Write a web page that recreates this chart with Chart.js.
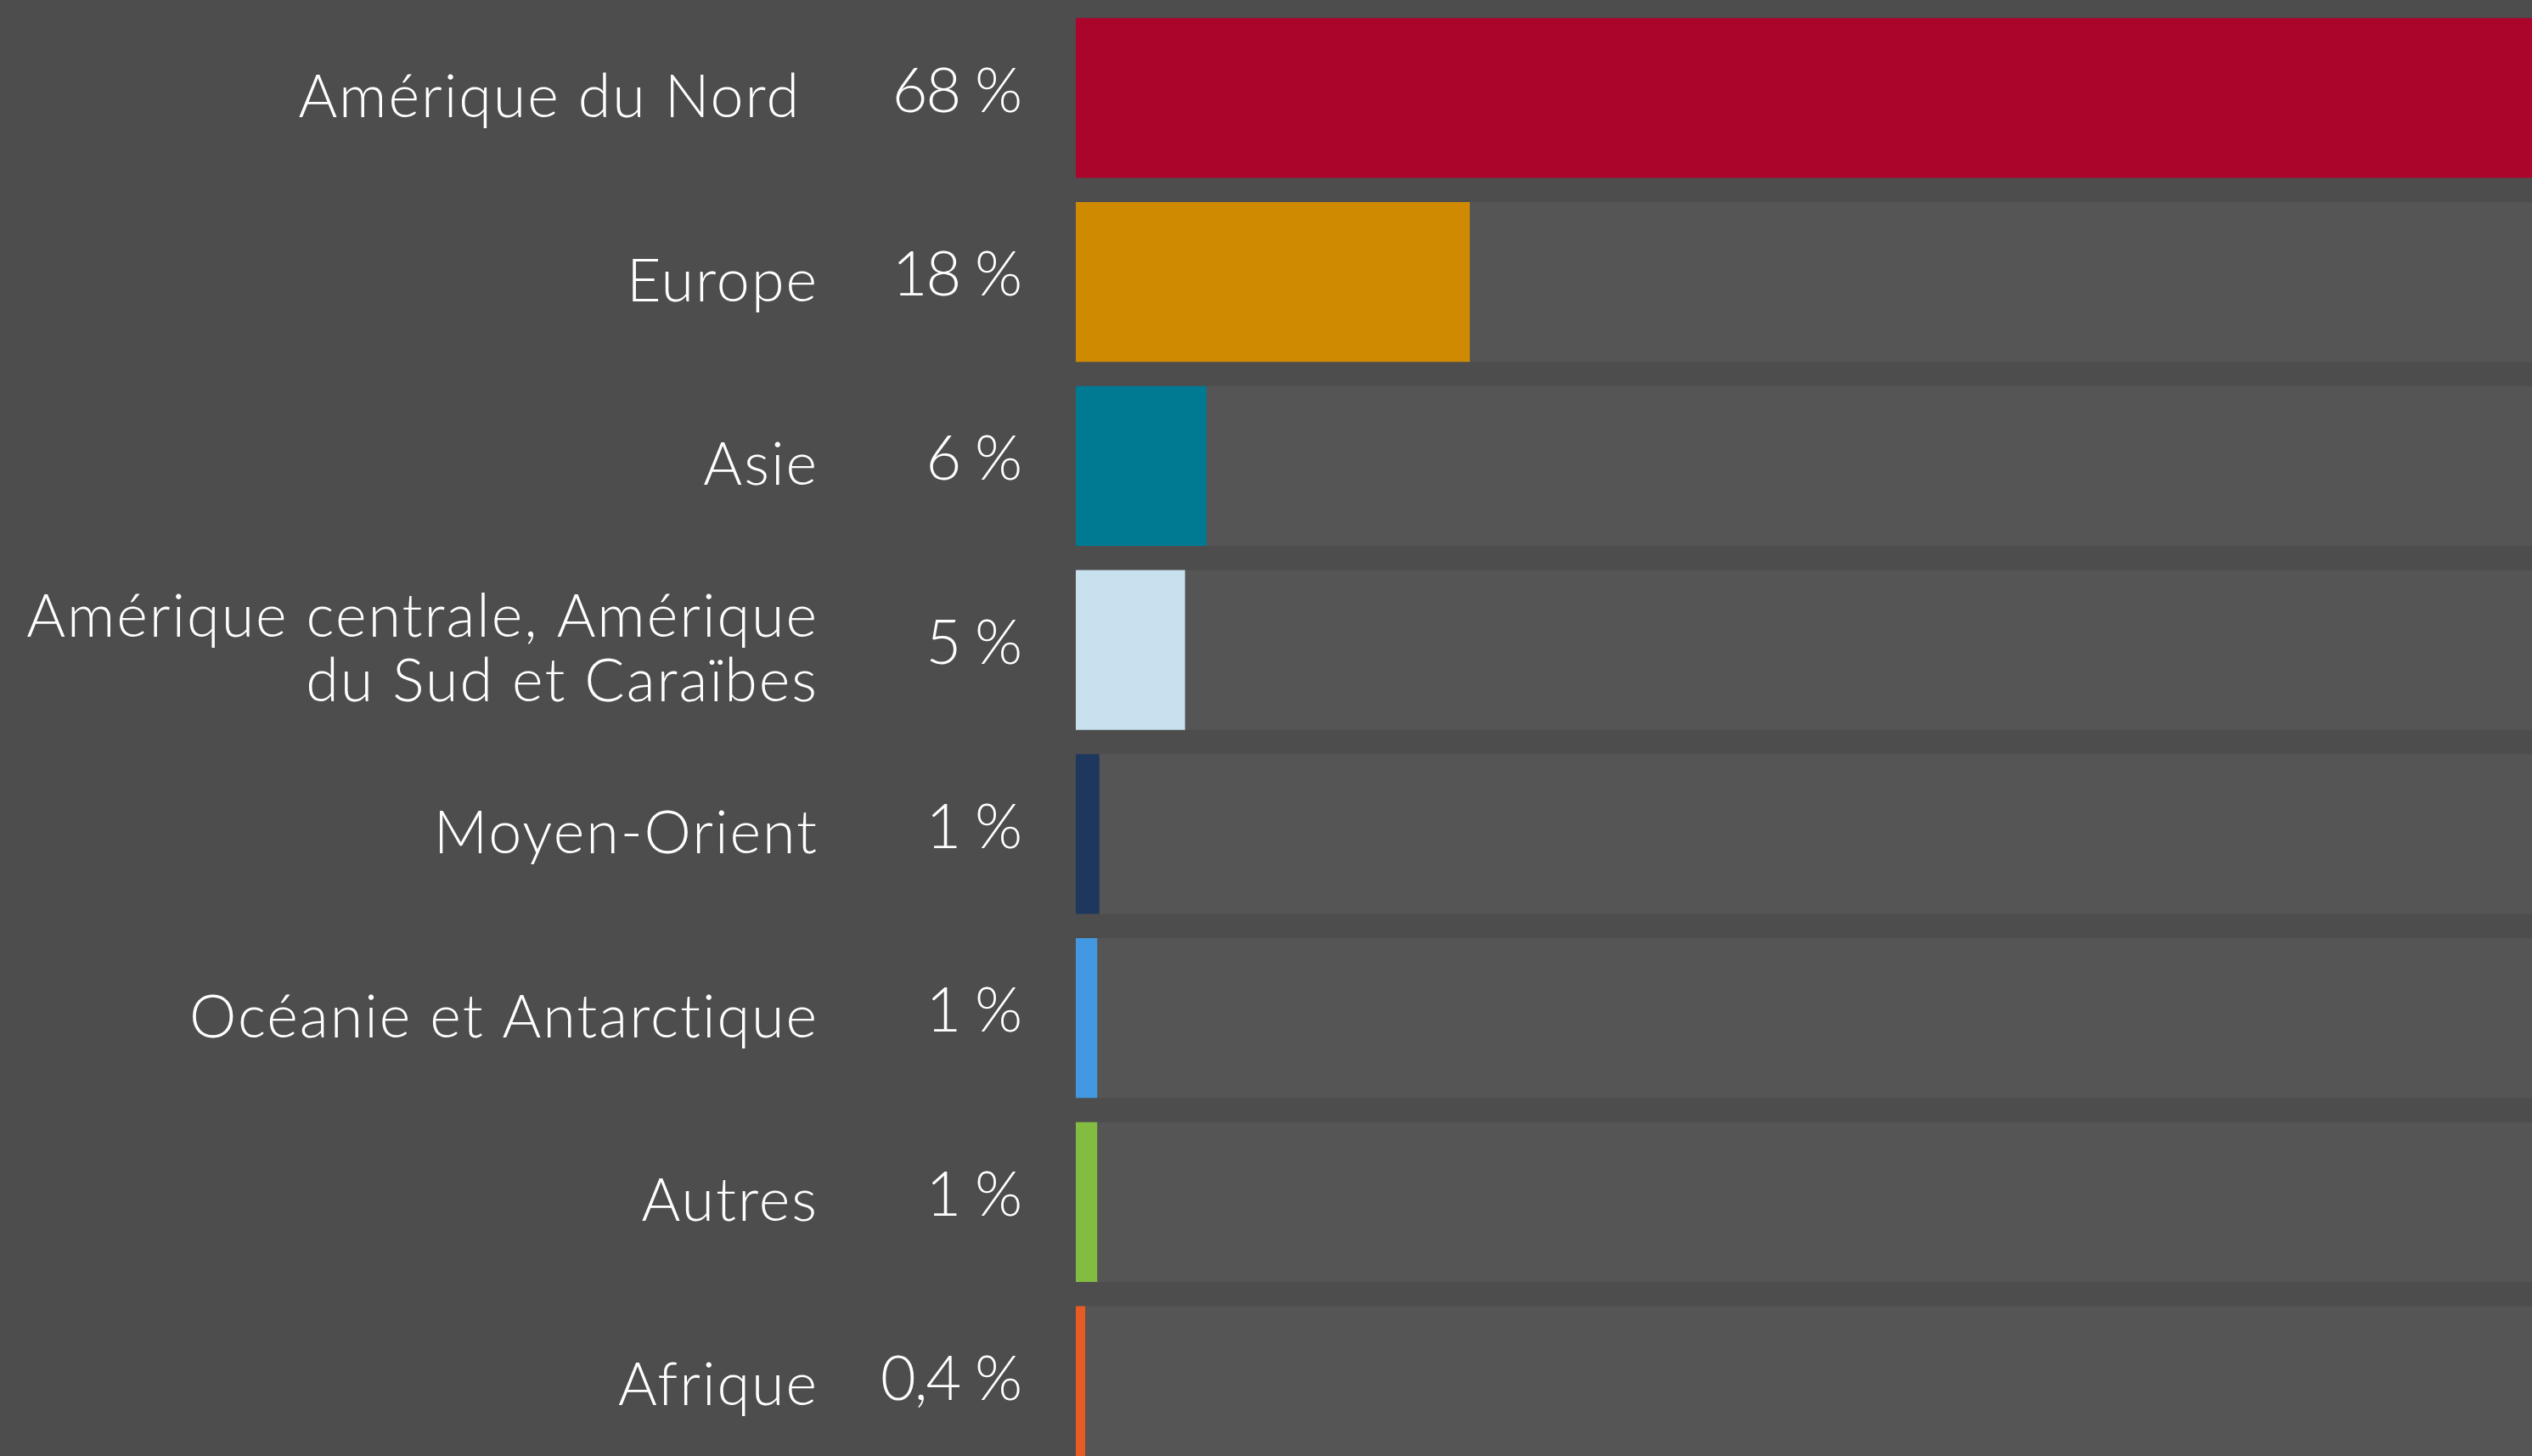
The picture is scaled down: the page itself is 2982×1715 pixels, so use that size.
<!DOCTYPE html>
<html lang="fr">
<head>
<meta charset="utf-8">
<title>Répartition par région</title>
<script src="https://cdn.jsdelivr.net/npm/chart.js@4"></script>
<style>
  html, body { margin: 0; padding: 0; background: #4d4d4d; overflow: hidden; }
  #wrap { position: relative; width: 2982px; height: 1741px; }
</style>
</head>
<body>
<div id="wrap"><canvas id="regionChart"></canvas></div>
<script>
// data
const regions = [
  'Amérique du Nord\u00a0',
  'Europe',
  'Asie',
  ['Amérique centrale, Amérique', 'du Sud et Caraïbes'],
  'Moyen-Orient',
  'Océanie et Antarctique',
  'Autres',
  'Afrique'
];
const shares = [68, 18.4, 6.1, 5.1, 1.1, 1.0, 1.0, 0.44];
const shareLabels = ['68 %', '18 %', '6 %', '5 %', '1 %', '1 %', '1 %', '0,4 %'];
const barColors = ['#ab052c', '#d08a02', '#007a92', '#c9e1ef', '#1e375c', '#4299e1', '#82bd41', '#e65c24'];
const scaleMax = 68;
const track = regions.map(() => scaleMax);

const fontFamily = 'Lato, "Open Sans", sans-serif';

// slightly wider lettering for the region names
const spacingPlugin = {
  id: 'spacing',
  beforeDraw(chart) {
    chart.ctx.letterSpacing = '2px';
  }
};

// percentages drawn between the region names and the bars
const shareLabelPlugin = {
  id: 'shareLabels',
  afterDatasetsDraw(chart) {
    const { ctx, chartArea, scales } = chart;
    ctx.save();
    ctx.letterSpacing = '-2px';
    ctx.fillStyle = '#ffffff';
    ctx.font = '300 72px ' + fontFamily;
    ctx.textAlign = 'right';
    ctx.textBaseline = 'middle';
    shareLabels.forEach((txt, i) => {
      ctx.fillText(txt, chartArea.left - 65, scales.y.getPixelForValue(i) - 7);
    });
    ctx.restore();
  }
};

const ctx = document.getElementById('regionChart').getContext('2d');
new Chart(ctx, {
  type: 'bar',
  data: {
    labels: regions,
    datasets: [
      {
        label: 'valeur',
        data: shares,
        backgroundColor: barColors,
        grouped: false,
        order: 1,
        barPercentage: 0.8676,
        categoryPercentage: 1
      },
      {
        label: 'fond',
        data: track,
        backgroundColor: '#555555',
        grouped: false,
        order: 2,
        barPercentage: 0.8676,
        categoryPercentage: 1
      }
    ]
  },
  options: {
    indexAxis: 'y',
    responsive: true,
    maintainAspectRatio: false,
    animation: false,
    devicePixelRatio: 1,
    layout: { padding: { top: 7, left: 0, right: 0, bottom: 0 } },
    plugins: {
      legend: { display: false },
      tooltip: { enabled: false }
    },
    scales: {
      x: {
        display: false,
        min: 0,
        max: scaleMax
      },
      y: {
        grid: { display: false, drawTicks: false },
        border: { display: false },
        afterFit: (scale) => {
          scale.width = 1267;
          // the big tick padding is only meant horizontally
          scale.paddingTop = 0;
          scale.paddingBottom = 0;
        },
        ticks: {
          color: '#ffffff',
          padding: 303,
          font: { family: fontFamily, size: 70, weight: '300', lineHeight: 1.086 }
        }
      }
    }
  },
  plugins: [spacingPlugin, shareLabelPlugin]
});
</script>
</body>
</html>
